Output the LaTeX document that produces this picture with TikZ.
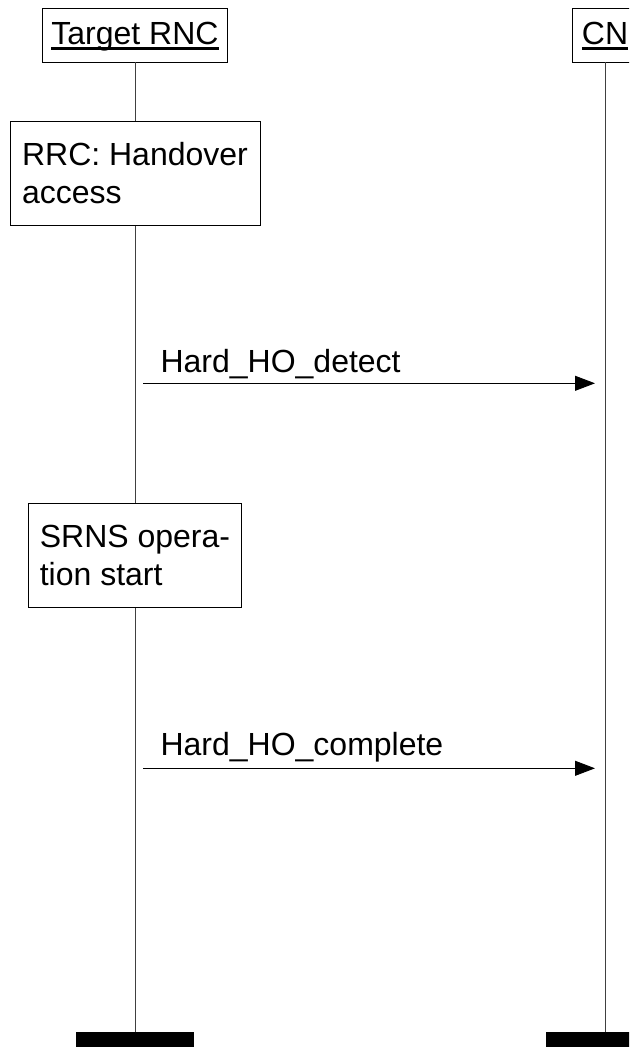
\documentclass[tikz,border=0pt]{standalone}
\usepackage{fontspec}
\setmainfont{Liberation Sans}
\usetikzlibrary{arrows.meta,positioning}
\newsavebox\headbox
\newcommand\headtext[1]{\sbox\headbox{#1}\rlap{\rule[-5pt]{\wd\headbox}{2.6pt}}\usebox\headbox}

\begin{document}
\begin{tikzpicture}[x = 1pt, y = -1pt,
  font = \fontsize{32}{38}\selectfont,
  entity/.style = {draw, fill = white, line width = 0.9pt, minimum height = 54pt, inner xsep = 9pt, text height = 24pt, text depth = 4pt},
  action/.style = {draw, fill = white, line width = 0.9pt, align = left, minimum height = 104pt},
  lifeline/.style = {line width = 0.9pt, black!75},
  endbar/.style = {fill = black, minimum width = 118pt, minimum height = 15.5pt, inner sep = 0pt, anchor = north},
  msg/.style = {line width = 0.9pt, -{Triangle[length = 20pt, width = 15pt]}}]
\useasboundingbox (0,0) rectangle (629,1048);
\clip (0,0) rectangle (629,1048);

\node[entity] (trnc) at (135,35) {\headtext{Target RNC}};
\node[entity] (cn) at (605,35) {\headtext{CN}};
\node[action, minimum width = 250pt] (rrc) at (135,173.4) {RRC: Handover\\access};
\node[action, minimum width = 212.3pt] (srns) at (135,555.7) {SRNS opera-\\tion start};
\node[endbar] (tend) at (135,1031.7) {};
\node[endbar] (cnend) at (605,1031.7) {};

\draw[lifeline] (trnc) -- (rrc);
\draw[lifeline] (rrc) -- (srns);
\draw[lifeline] (srns) -- (tend);
\draw[lifeline] (cn) -- (cnend);

% messages to the CN
\coordinate (d1) at (143,383.3);
\coordinate (d2) at (595,383.3);
\draw[msg] (d1) -- (d2);
\node[anchor = base west] (detect) at (157,372) {Hard\_HO\_detect};

\coordinate (c1) at (143,768.3);
\coordinate (c2) at (595,768.3);
\draw[msg] (c1) -- (c2);
\node[anchor = base west] (complete) at (157,755) {Hard\_HO\_complete};
\end{tikzpicture}
\end{document}
